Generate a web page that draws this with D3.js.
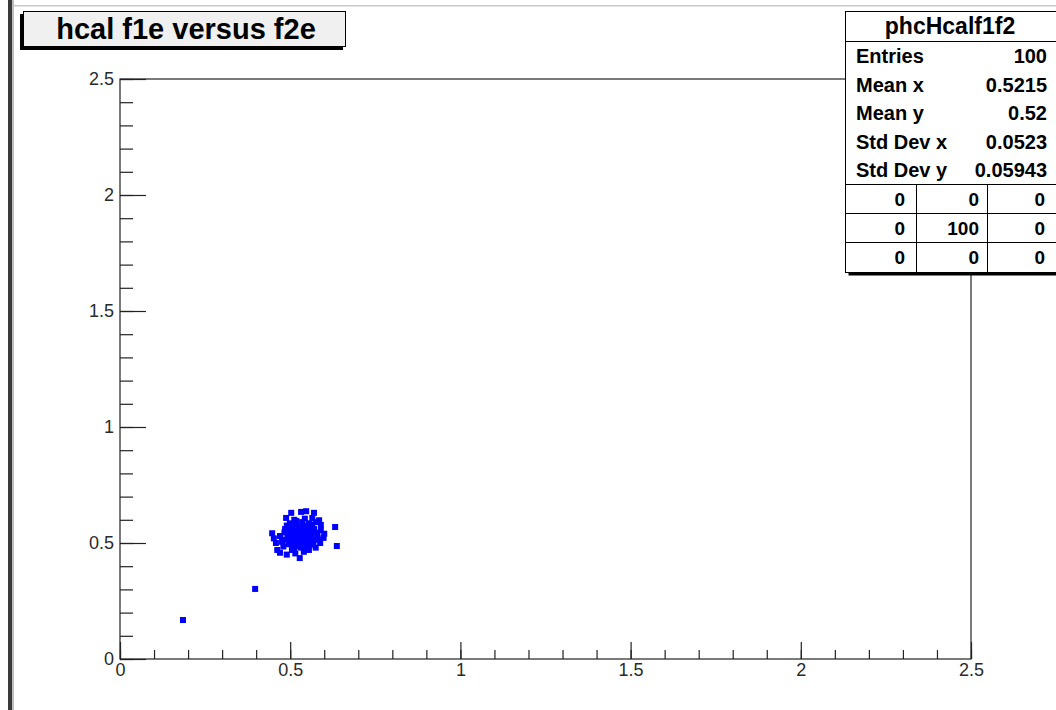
<!DOCTYPE html>
<html><head><meta charset="utf-8">
<script src="https://cdn.jsdelivr.net/npm/d3@7"></script>
<style>html,body{margin:0;padding:0;background:#fff;overflow:hidden}svg{display:block;font-family:"Liberation Sans",Arial,sans-serif}</style>
</head><body><svg id="c" width="1056" height="710"></svg>
<script>
const title = "hcal f1e versus f2e";
const statsName = "phcHcalf1f2";
const statLabels = ["Entries","Mean x","Mean y","Std Dev x","Std Dev y"];
const statValues = ["100","0.5215","0.52","0.0523","0.05943"];
const gridValues = [["0","0","0"],["0","100","0"],["0","0","0"]];
const xMajorTicks = [0,0.5,1,1.5,2,2.5];
const yMajorTicks = [0,0.5,1,1.5,2,2.5];
const xTickLabels = ["0","0.5","1","1.5","2","2.5"];
const yTickLabels = ["0","0.5","1","1.5","2","2.5"];
const ptsX = [0.185,0.397,0.632,0.637,
 0.503,0.532,0.547,0.570,0.488,0.512,0.565,0.585,
 0.447,0.452,0.458,0.462,0.470,0.476,0.480,0.485,0.490,
 0.470,0.490,0.515,0.528,0.505,0.540,0.555,
 0.590,0.600,0.598,0.588,0.575,0.590,
 0.500,0.510,0.520,0.530,0.540,0.550,0.560,0.570,
 0.505,0.515,0.525,0.535,0.545,0.555,0.565,0.575,
 0.495,0.508,0.522,0.535,0.548,0.562,0.572,0.580,
 0.497,0.512,0.527,0.538,0.552,0.563,0.518,0.543,
 0.493,0.503,0.517,0.532,0.546,0.557,0.568,0.582,
 0.499,0.524,0.536,0.549,0.559,0.511,0.526,0.541,
 0.487,0.483,0.507,0.521,0.533,0.544,0.556,0.566,
 0.514,0.529,0.539,0.551,0.561,0.496,0.509,0.534,0.547,0.576];
const ptsY = [0.168,0.302,0.569,0.487,
 0.630,0.634,0.637,0.630,0.608,0.600,0.608,0.598,
 0.542,0.520,0.500,0.470,0.530,0.505,0.485,0.560,0.575,
 0.458,0.450,0.455,0.435,0.470,0.462,0.470,
 0.578,0.540,0.522,0.500,0.480,0.555,
 0.520,0.540,0.510,0.530,0.550,0.520,0.540,0.560,
 0.560,0.580,0.570,0.590,0.575,0.585,0.570,0.545,
 0.495,0.490,0.485,0.500,0.495,0.505,0.515,0.530,
 0.545,0.525,0.548,0.515,0.560,0.525,0.595,0.605,
 0.530,0.505,0.555,0.480,0.540,0.490,0.495,0.515,
 0.585,0.520,0.560,0.510,0.555,0.475,0.500,0.530,
 0.515,0.545,0.535,0.535,0.545,0.520,0.535,0.550,
 0.510,0.512,0.570,0.545,0.580,0.560,0.500,0.525,0.485,0.590];

const svg = d3.select("#c");
const W = 1056, H = 710;
const FONT = "Liberation Sans, Arial, sans-serif";
svg.append("rect").attr("x",8).attr("y",0).attr("width",4).attr("height",H).attr("fill","#3a3a3a");
svg.append("rect").attr("x",12).attr("y",0).attr("width",2).attr("height",H).attr("fill","#bdbdbd");
svg.append("rect").attr("x",12).attr("y",5).attr("width",W-12).attr("height",1.5).attr("fill","#c8c8c8");

const x = d3.scaleLinear().domain([0,2.5]).range([120,971]);
const y = d3.scaleLinear().domain([0,2.5]).range([659,79]);
const plotW = 851, plotH = 580;

svg.append("rect").attr("x",120).attr("y",79).attr("width",plotW).attr("height",plotH)
  .attr("fill","none").attr("stroke","#222").attr("stroke-width",1.2);

const minorX = d3.range(0,26).map(i=>i/10);
const minorY = d3.range(0,26).map(i=>i/10);
function styleAxis(g){
  g.attr("font-size",null).attr("font-family",null);
  g.select(".domain").remove();
  g.selectAll("line").attr("stroke","#222").attr("stroke-width",1.2);
  g.selectAll("text").style("font-size","18px").style("font-family",FONT).attr("fill","#2a2a2a");
}
svg.append("g").attr("transform","translate(0,659)")
  .call(d3.axisBottom(x).tickValues(minorX).tickSizeInner(-Math.round(plotH*0.015)).tickSizeOuter(0).tickFormat(""))
  .call(styleAxis);
svg.append("g").attr("transform","translate(0,659)")
  .call(d3.axisBottom(x).tickValues(xMajorTicks).tickSizeInner(-Math.round(plotH*0.03)).tickSizeOuter(0).tickPadding(4)
    .tickFormat((d,i)=>xTickLabels[i]))
  .call(styleAxis);
svg.append("g").attr("transform","translate(120,0)")
  .call(d3.axisLeft(y).tickValues(minorY).tickSizeInner(-Math.round(plotW*0.015)).tickSizeOuter(0).tickFormat(""))
  .call(styleAxis);
svg.append("g").attr("transform","translate(120,0)")
  .call(d3.axisLeft(y).tickValues(yMajorTicks).tickSizeInner(-Math.round(plotW*0.03)).tickSizeOuter(0).tickPadding(6)
    .tickFormat((d,i)=>yTickLabels[i]))
  .call(styleAxis);

const pts = ptsX.map((v,i)=>[v,ptsY[i]]);
svg.append("g").selectAll("rect").data(pts).join("rect")
  .attr("x",d=>x(d[0])-3).attr("y",d=>y(d[1])-3).attr("width",6).attr("height",6).attr("fill","#0000ff");

svg.append("rect").attr("x",20).attr("y",14).attr("width",323).attr("height",36).attr("fill","#000");
svg.append("rect").attr("x",23.5).attr("y",11.5).attr("width",322).attr("height",35).attr("fill","#f0f0f0").attr("stroke","#000").attr("stroke-width",1);
svg.append("text").attr("x",186).attr("y",39).attr("text-anchor","middle").style("font-size","29px").attr("font-weight","bold").attr("fill","#000").text(title);

const bx=845.5, by=11.5, bw=220, bh=261;
svg.append("rect").attr("x",bx+3).attr("y",by+3).attr("width",bw).attr("height",bh).attr("fill","#000");
svg.append("rect").attr("x",bx).attr("y",by).attr("width",bw).attr("height",bh).attr("fill","#fff").attr("stroke","#000").attr("stroke-width",1);
svg.append("line").attr("x1",bx).attr("x2",bx+bw).attr("y1",41.5).attr("y2",41.5).attr("stroke","#000");
svg.append("text").attr("x",950).attr("y",34).attr("text-anchor","middle").style("font-size","23px").attr("font-weight","bold").text(statsName);
const rowY = [63,92,120,149,177];
statLabels.forEach((l,i)=>{
  svg.append("text").attr("x",856).attr("y",rowY[i]).style("font-size","20px").attr("font-weight","bold").text(l);
  svg.append("text").attr("x",1047).attr("y",rowY[i]).attr("text-anchor","end").style("font-size","20px").attr("font-weight","bold").text(statValues[i]);
});
const gy = [184.5,213.5,242.5,272];
[0,1,2].forEach(k=>svg.append("line").attr("x1",bx).attr("x2",bx+bw).attr("y1",gy[k]).attr("y2",gy[k]).attr("stroke","#000"));
[916.5,987.5].forEach(cx=>svg.append("line").attr("x1",cx).attr("x2",cx).attr("y1",gy[0]).attr("y2",by+bh).attr("stroke","#000"));
const colR = [905,979,1045];
gridValues.forEach((row,r)=>row.forEach((v,c)=>{
  svg.append("text").attr("x",colR[c]).attr("y",gy[r]+21).attr("text-anchor","end").style("font-size","19px").attr("font-weight","bold").text(v);
}));
</script></body></html>
